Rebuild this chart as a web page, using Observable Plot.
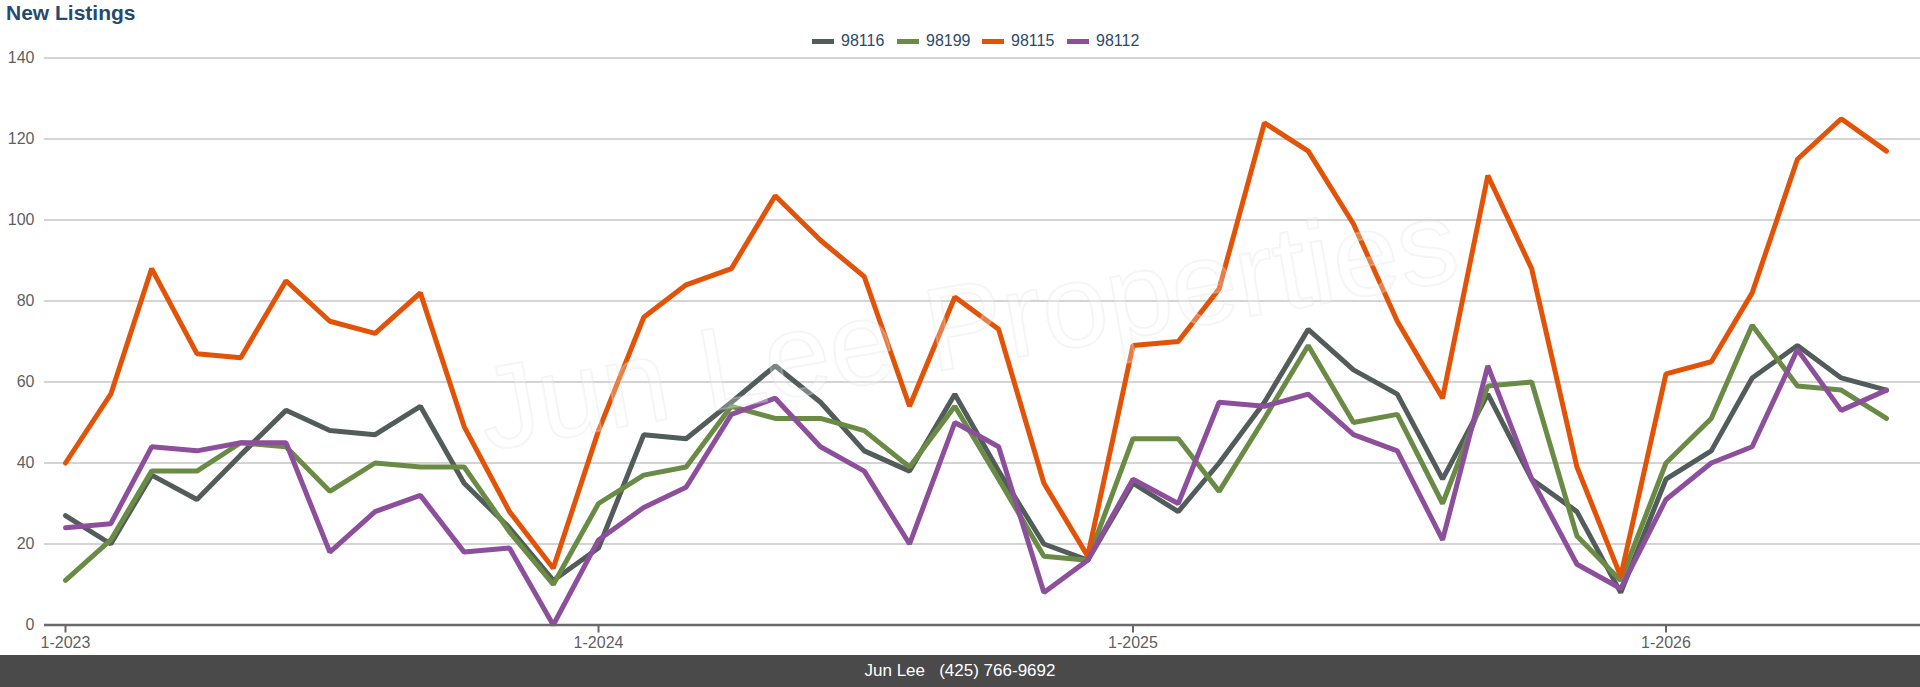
<!DOCTYPE html>
<html>
<head>
<meta charset="utf-8">
<script src="https://cdn.jsdelivr.net/npm/d3@7"></script>
<script src="https://cdn.jsdelivr.net/npm/@observablehq/plot@0.6"></script>
<style>
  html, body { margin: 0; padding: 0; background: #fff; }
  body { width: 1920px; height: 687px; overflow: hidden; font-family: "Liberation Sans", Arial, Helvetica, sans-serif; }
  #wrap { position: relative; width: 1920px; height: 687px; }
  #title { position: absolute; left: 6px; top: 2px; font-size: 21px; line-height: 21px; font-weight: bold; color: #244a6e; }
  #legend { position: absolute; left: 812px; top: 32px; height: 18px; display: flex; align-items: center; }
  .item { display: flex; align-items: center; width: 85px; font-size: 16px; line-height: 18px; color: #2c4a6a; }
  .sw { width: 22px; height: 5px; margin-right: 7px; }
  #chart { position: absolute; left: 0; top: 48px; }
  #footer { position: absolute; left: 0; top: 655px; width: 1920px; height: 32px; background: #4a4a4a; color: #fff; font-size: 17px; line-height: 32px; text-align: center; white-space: pre; }
</style>
</head>
<body>
<div id="wrap">
  <div id="title">New Listings</div>
  <div id="legend"></div>
  <div id="chart"></div>
  <div id="footer">Jun Lee   (425) 766-9692</div>
</div>
<script>
// ---- data ----
const months = [
  "2023-01","2023-02","2023-03","2023-04","2023-05","2023-06","2023-07","2023-08","2023-09","2023-10","2023-11","2023-12",
  "2024-01","2024-02","2024-03","2024-04","2024-05","2024-06","2024-07","2024-08","2024-09","2024-10","2024-11","2024-12",
  "2025-01","2025-02","2025-03","2025-04","2025-05","2025-06","2025-07","2025-08","2025-09","2025-10","2025-11","2025-12",
  "2026-01","2026-02","2026-03","2026-04","2026-05","2026-06"
];
const zips = ["98116", "98199", "98115", "98112"];
const colors = ["#525c5b", "#6a8b45", "#e25308", "#8d4f9c"];
const v98116 = [27,20,37,31,42,53,48,47,54,35,24,11, 19,47,46,55,64,55,43,38,57,38,20,16, 35,28,40,55,73,63,57,36,57,36,28,8, 36,43,61,69,61,58];
const v98199 = [11,21,38,38,45,44,33,40,39,39,23,10, 30,37,39,54,51,51,48,39,54,36,17,16, 46,46,33,51,69,50,52,30,59,60,22,11, 40,51,74,59,58,51];
const v98115 = [40,57,88,67,66,85,75,72,82,49,28,14, 48,76,84,88,106,95,86,54,81,73,35,17, 69,70,83,124,117,99,75,56,111,88,39,12, 62,65,82,115,125,117];
const v98112 = [24,25,44,43,45,45,18,28,32,18,19,0, 21,29,34,52,56,44,38,20,50,44,8,16, 36,30,55,54,57,47,43,21,64,36,15,9, 31,40,44,68,53,58];
const yTicks = [0, 20, 40, 60, 80, 100, 120, 140];
const xTickLabels = ["2023-01", "2024-01", "2025-01", "2026-01"];
const watermark = "Jun Lee Properties";

// ---- build ----
const series = [v98116, v98199, v98115, v98112];
const parse = d3.utcParse("%Y-%m");
const table = [];
zips.forEach((z, k) => months.forEach((m, i) => table.push({date: parse(m), zip: z, value: series[k][i]})));
const xTicks = xTickLabels.map(parse);

const legend = document.getElementById("legend");
zips.forEach((z, k) => {
  const it = document.createElement("div");
  it.className = "item";
  it.innerHTML = `<span class="sw" style="background:${colors[k]}"></span><span>${z}</span>`;
  legend.appendChild(it);
});

const chart = Plot.plot({
  width: 1920,
  height: 607,
  marginTop: 9.5,
  marginBottom: 30.5,
  marginLeft: 65,
  marginRight: 34,
  style: {fontFamily: '"Liberation Sans", Arial, Helvetica, sans-serif', fontSize: "16px", color: "#5f5f5f", background: "transparent"},
  x: {type: "utc", domain: [parse(months[0]), parse(months[months.length - 1])], label: null},
  y: {domain: [0, 140], label: null},
  color: {domain: zips, range: colors},
  marks: [
    Plot.ruleY(yTicks.filter(d => d > 0), {stroke: "#c6c6c6", strokeWidth: 1.5, insetLeft: -21, insetRight: -34}),
    Plot.axisY({ticks: yTicks, tickSize: 0, tickPadding: 31, fontSize: 16, label: null}),
    Plot.axisX({ticks: xTicks, tickSize: 8, tickPadding: 4, fontSize: 16, stroke: "#666", strokeWidth: 2, tickFormat: d3.utcFormat("%-m-%Y"), label: null}),
    Plot.line(table, {x: "date", y: "value", z: "zip", stroke: "zip", strokeWidth: 5, strokeLinejoin: "miter", strokeLinecap: "round"}),
    Plot.ruleY([0], {stroke: "#6a6a6a", strokeWidth: 2.5, insetLeft: -21, insetRight: -34}),
    Plot.text([watermark], {frameAnchor: "middle", rotate: -10, dx: -8, dy: -14, fontSize: 118, fill: "#ffffff", fillOpacity: 0.25, stroke: "#dcdcdc", strokeOpacity: 0.3, strokeWidth: 2})
  ]
});
document.getElementById("chart").appendChild(chart);
</script>
</body>
</html>
